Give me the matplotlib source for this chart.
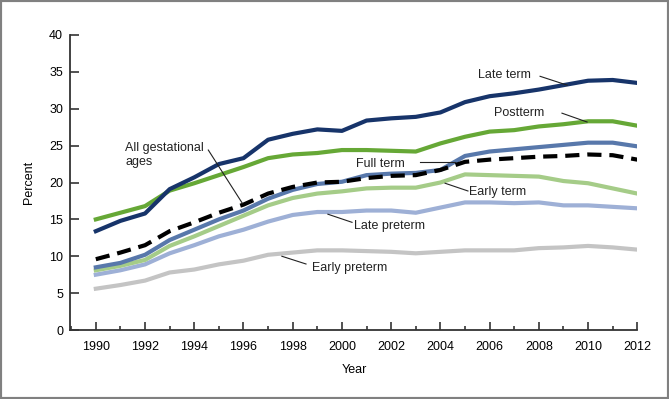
import matplotlib
matplotlib.use("Agg")
import matplotlib.pyplot as plt
from matplotlib.patches import Rectangle
from matplotlib.ticker import MultipleLocator

plt.rcParams['font.family'] = ['Liberation Sans', 'DejaVu Sans']

years = list(range(1990, 2013))

late_term = [13.4, 14.8, 15.8, 19.1, 20.7, 22.5, 23.3, 25.8, 26.6, 27.2, 27.0, 28.4,
             28.7, 28.9, 29.5, 30.9, 31.7, 32.1, 32.6, 33.2, 33.8, 33.9, 33.5]
postterm = [15.0, 15.9, 16.8, 18.9, 19.9, 21.0, 22.1, 23.3, 23.8, 24.0, 24.4, 24.4,
            24.3, 24.2, 25.3, 26.2, 26.9, 27.1, 27.6, 27.9, 28.3, 28.3, 27.7]
all_ages = [9.6, 10.5, 11.5, 13.4, 14.6, 15.9, 17.0, 18.5, 19.4, 20.0, 20.1, 20.6,
            20.9, 21.0, 21.7, 22.8, 23.1, 23.3, 23.5, 23.6, 23.8, 23.7, 23.1]
full_term = [8.5, 9.1, 10.2, 12.2, 13.6, 15.0, 16.2, 17.8, 19.0, 19.8, 20.1, 21.0,
             21.2, 21.3, 21.7, 23.6, 24.2, 24.5, 24.8, 25.1, 25.4, 25.4, 24.9]
early_term = [8.1, 8.7, 9.5, 11.4, 12.7, 14.1, 15.5, 16.9, 17.9, 18.5, 18.8, 19.2,
              19.3, 19.3, 20.0, 21.1, 21.0, 20.9, 20.8, 20.2, 19.9, 19.2, 18.5]
late_preterm = [7.5, 8.1, 8.9, 10.4, 11.5, 12.7, 13.6, 14.7, 15.6, 16.0, 16.0, 16.2,
                16.2, 15.9, 16.6, 17.3, 17.3, 17.2, 17.3, 16.9, 16.9, 16.7, 16.5]
early_preterm = [5.6, 6.1, 6.7, 7.8, 8.2, 8.9, 9.4, 10.2, 10.5, 10.8, 10.8, 10.7,
                 10.6, 10.4, 10.6, 10.8, 10.8, 10.8, 11.1, 11.2, 11.4, 11.2, 10.9]

fig = plt.figure(figsize=(6.69, 3.99), dpi=100)
ax = fig.add_axes([0.1046, 0.1729, 0.848, 0.7394])

lw = 3.0
ax.plot(years, early_preterm, color='#c4c4c4', lw=lw)
ax.plot(years, late_preterm, color='#9eb0d6', lw=lw)
ax.plot(years, early_term, color='#a5cc88', lw=lw)
ax.plot(years, full_term, color='#5878ab', lw=lw)
ax.plot(years, postterm, color='#66a836', lw=lw)
ax.plot(years, late_term, color='#17346a', lw=lw)
dash, = ax.plot(years, all_ages, color='black', lw=lw)
dash.set_dashes((3.4, 1.9))

ax.set_xlim(1988.95, 2012)
ax.set_ylim(0, 40)
ax.xaxis.set_major_locator(MultipleLocator(2))
ax.xaxis.set_minor_locator(MultipleLocator(1))
ax.yaxis.set_major_locator(MultipleLocator(5))

for s in ['top', 'right']:
    ax.spines[s].set_visible(False)
for s in ['left', 'bottom']:
    ax.spines[s].set_color('#333333')
    ax.spines[s].set_linewidth(1.3)

ax.tick_params(axis='y', direction='in', length=6.5, width=1.2, color='#333333',
               labelsize=9, pad=5)
ax.tick_params(axis='x', which='major', direction='in', length=5.5, width=1.2,
               color='#333333', labelsize=9, pad=8)
ax.tick_params(axis='x', which='minor', direction='in', length=3, width=1.2,
               color='#333333')

ax.set_ylabel('Percent', fontsize=9)
ax.yaxis.set_label_coords(-0.062, 0.5)
ax.set_xlabel('Year', fontsize=9)
ax.xaxis.set_label_coords(0.502, -0.115)

# labels with leader lines
def label(text, xy_text, xy_from, xy_to, ha='center'):
    ax.text(xy_text[0], xy_text[1], text, fontsize=9, ha=ha, va='center',
            color='#222222')
    ax.plot([xy_from[0], xy_to[0]], [xy_from[1], xy_to[1]], color='#222222',
            lw=0.8)

label('Late term', (2006.6, 34.6), (2008.05, 34.4), (2009.15, 33.2))
label('Postterm', (2007.2, 29.4), (2008.94, 29.4), (2009.96, 28.2))
label('Full term', (2001.55, 22.5), (2003.17, 22.8), (2004.6, 22.8))
label('Early term', (2005.17, 18.7), (2004.19, 19.9), (2005.12, 18.85), ha='left')
label('Late preterm', (2000.49, 14.1), (1999.43, 15.7), (2000.41, 14.6), ha='left')
label('Early preterm', (1998.79, 8.4), (1997.56, 10.0), (1998.54, 8.95), ha='left')
label('All gestational\nages', (1991.19, 23.7), (1994.57, 24.4), (1995.95, 17.2),
      ha='left')

fig.patches.append(Rectangle((0, 0), 1, 1, transform=fig.transFigure, fill=False,
                             edgecolor='#808080', lw=3, clip_on=False))

fig.savefig('out.png', dpi=100)
